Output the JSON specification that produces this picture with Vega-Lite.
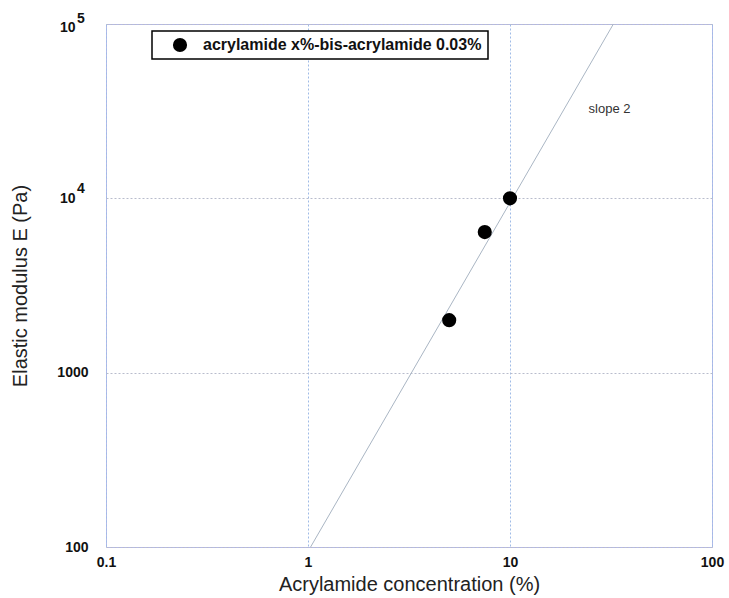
{
  "$schema": "https://vega.github.io/schema/vega-lite/v6.json",
  "width": 606,
  "height": 523,
  "autosize": {"type": "none"},
  "padding": {"left": 106, "top": 24, "right": 17, "bottom": 51},
  "background": "white",
  "config": {
    "view": {"stroke": "#b4b8e8", "strokeWidth": 1},
    "font": "Liberation Sans",
    "legend": {"strokeWidth": 1.5}
  },
  "datasets": {
    "fit": [
      {"c": 1.03, "E": 100},
      {"c": 32.5, "E": 100000}
    ],
    "measured": [
      {"c": 5, "E": 2000, "series": "acrylamide x%-bis-acrylamide 0.03%"},
      {"c": 7.5, "E": 6400, "series": "acrylamide x%-bis-acrylamide 0.03%"},
      {"c": 10, "E": 10000, "series": "acrylamide x%-bis-acrylamide 0.03%"}
    ],
    "note": [
      {"c": 24.5, "E": 32400, "text": "slope 2"}
    ],
    "exp5": [
      {"c": 0.1, "E": 100000, "exp": "5"}
    ],
    "exp4": [
      {"c": 0.1, "E": 10000, "exp": "4"}
    ]
  },
  "encoding": {
    "x": {
      "field": "c",
      "type": "quantitative",
      "scale": {"type": "log", "domain": [0.1, 100], "nice": false},
      "axis": {
        "title": "Acrylamide concentration (%)",
        "titleFontSize": 20,
        "titleFontWeight": "normal",
        "titleColor": "#222222",
        "titlePadding": 5,
        "values": [0.1, 1, 10, 100],
        "labelExpr": "datum.value < 0.5 ? '0.1' : datum.value < 5 ? '1' : datum.value < 50 ? '10' : '100'",
        "labelFontSize": 14,
        "labelFontWeight": "bold",
        "labelColor": "#111111",
        "labelPadding": 8,
        "labelFlush": false,
        "labelOverlap": false,
        "ticks": false,
        "domain": false,
        "grid": true,
        "gridColor": "#9fbbe6",
        "gridDash": [2, 2],
        "gridWidth": 1
      }
    },
    "y": {
      "field": "E",
      "type": "quantitative",
      "scale": {"type": "log", "domain": [100, 100000], "nice": false},
      "axis": {
        "title": "Elastic modulus E (Pa)",
        "titleFontSize": 20,
        "titleFontWeight": "normal",
        "titleColor": "#222222",
        "titlePadding": 26,
        "values": [100, 1000, 10000, 100000],
        "labelExpr": "datum.value > 5000 ? '10' : datum.value > 500 ? '1000' : '100'",
        "labelFontSize": 14,
        "labelFontWeight": "bold",
        "labelColor": "#111111",
        "labelPadding": {"condition": {"test": "datum.value > 5000", "value": 31}, "value": 18},
        "labelOffset": {"condition": {"test": "datum.value > 50000", "value": 3}, "value": 0},
        "labelFlush": false,
        "labelOverlap": false,
        "labelBound": false,
        "ticks": false,
        "domain": false,
        "grid": true,
        "gridColor": "#b8bccc",
        "gridDash": [2, 2],
        "gridWidth": 1
      }
    }
  },
  "layer": [
    {
      "data": {"name": "fit"},
      "mark": {"type": "line", "color": "#aab6c4", "strokeWidth": 1, "clip": true}
    },
    {
      "data": {"name": "measured"},
      "mark": {"type": "point", "shape": "circle", "filled": true, "size": 200, "opacity": 1},
      "encoding": {
        "color": {
          "field": "series",
          "type": "nominal",
          "scale": {"range": ["#000000"]},
          "legend": {
            "title": null,
            "orient": "none",
            "legendX": 46,
            "legendY": 7,
            "strokeColor": "#000000",
            "fillColor": "#ffffff",
            "padding": 6,
            "symbolSize": 200,
            "symbolType": "circle",
            "symbolOffset": 14,
            "symbolStrokeWidth": 0,
            "labelFontSize": 16,
            "labelFontWeight": "bold",
            "labelColor": "#111111",
            "labelLimit": 400,
            "labelOffset": 15,
            "cornerRadius": 0
          }
        }
      }
    },
    {
      "data": {"name": "note"},
      "mark": {"type": "text", "align": "left", "baseline": "middle", "fontSize": 13, "color": "#333333"},
      "encoding": {"text": {"field": "text"}}
    },
    {
      "data": {"name": "exp5"},
      "mark": {"type": "text", "align": "left", "baseline": "middle", "fontSize": 14, "fontWeight": "bold", "color": "#111111", "dx": -29, "dy": -5, "clip": false},
      "encoding": {"text": {"field": "exp"}}
    },
    {
      "data": {"name": "exp4"},
      "mark": {"type": "text", "align": "left", "baseline": "middle", "fontSize": 14, "fontWeight": "bold", "color": "#111111", "dx": -29, "dy": -9, "clip": false},
      "encoding": {"text": {"field": "exp"}}
    }
  ]
}
